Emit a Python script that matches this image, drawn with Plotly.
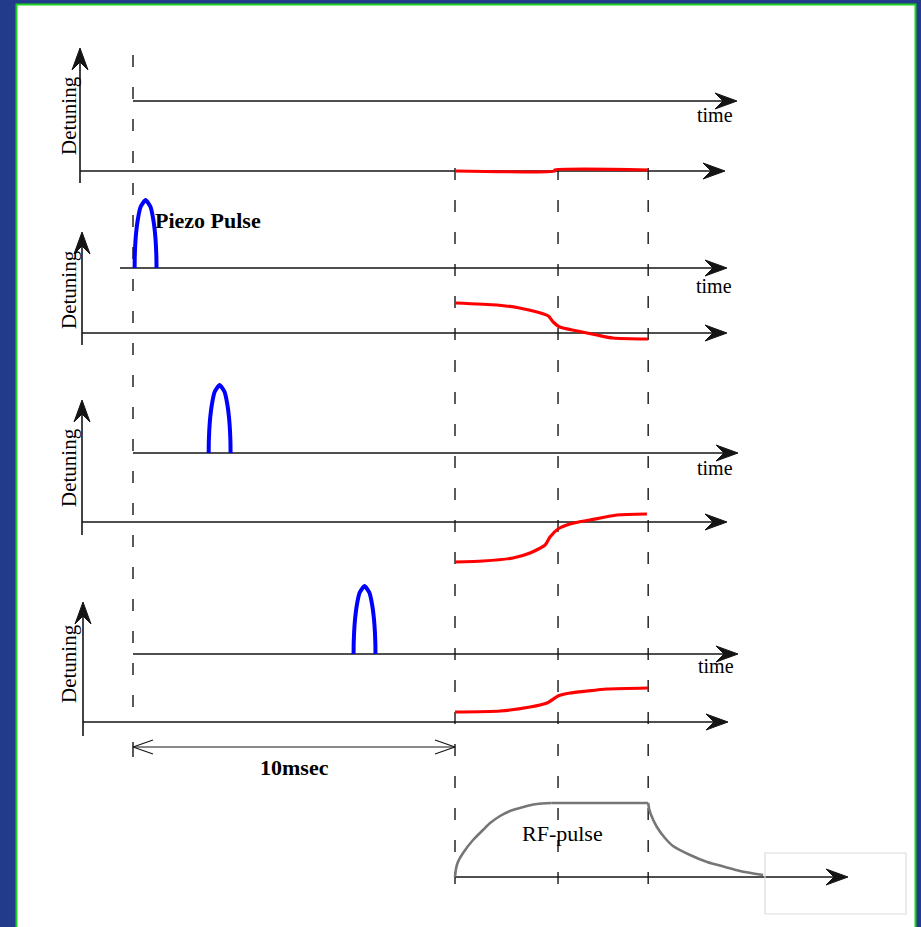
import plotly.graph_objects as go

# ---------------- data ----------------
# Reference instants on the time axis (ms)
trigger_t = 0.0      # piezo trigger in the first case
rf_on_t = 10.0       # RF pulse switched on
rf_mid_t = 13.2      # end of RF filling
rf_off_t = 16.0      # RF pulse switched off

# Piezo pulse centres (ms) for the three delayed cases, full width (ms) and height
piezo_centers = [0.39, 2.69, 7.19]
piezo_width = 0.68
piezo_height = 68

# Normalised outline of one piezo pulse
piezo_shape_x = [-1.0, -0.99, -0.95, -0.86, -0.7, -0.45, 0.0, 0.45, 0.7, 0.86, 0.95, 0.99, 1.0]
piezo_shape_y = [0.0, 0.15, 0.32, 0.52, 0.72, 0.9, 1.0, 0.9, 0.72, 0.52, 0.32, 0.15, 0.0]

# Detuning during the RF pulse, one curve per case (ms, arbitrary units)
det0_t = [10.0, 13.1, 13.1, 16.0]
det0_v = [0, 0, 1, 1]
det1_t = [10.0, 11.3, 12.0, 12.55, 12.9, 13.05, 13.25, 13.8, 14.4, 14.9, 16.0]
det1_v = [30, 28, 25, 21, 17, 11, 6, 2, -2, -5, -6]
det2_t = [10.0, 10.87, 11.8, 12.33, 12.8, 12.95, 13.2, 13.57, 14.19, 15.03, 15.96]
det2_v = [-40, -39, -36, -31, -23, -15, -7, -2, 2, 7, 8]
det3_t = [10.0, 11.4, 12.33, 12.86, 13.2, 13.57, 14.1, 14.72, 16.0]
det3_v = [10, 11, 15, 19, 26, 29, 31, 33, 34]

# RF field envelope (ms, arbitrary units): filling, flat top, decay
rf_fill_t = [10.0, 10.03, 10.09, 10.25, 10.56, 10.87, 11.09, 11.4, 11.71, 12.02, 12.3, 12.55, 13.0]
rf_fill_v = [0, 8, 15, 24, 37, 47, 54, 61, 66, 69, 71.5, 73, 74]
rf_top_t = [13.0, 16.0]
rf_top_v = [74, 74]
rf_decay_t = [16.0, 16.03, 16.09, 16.27, 16.52, 16.77, 17.3, 17.83, 18.39, 18.85, 19.57]
rf_decay_v = [74, 68, 62, 50, 39, 31, 22, 15, 10, 6, 2]

# Texts
axis_title = "Detuning"
time_title = "time"
piezo_title = "Piezo Pulse"
rf_title = "RF-pulse"
span_title = "10msec"

# ---------------- layout helpers ----------------
W, H = 921, 927
PX_PER_MS = 32.2
ORIGIN_PX = 133.0


def px2t(p):
    return (p - ORIGIN_PX) / PX_PER_MS


def t2px(t):
    return ORIGIN_PX + t * PX_PER_MS


INK = "#141414"
SERIF = "Liberation Serif, Times New Roman, serif"

fig = go.Figure()
shapes = []
annotations = []

# window frame
shapes.append(dict(type="rect", xref="paper", yref="paper",
                   x0=16.5 / W, x1=915.5 / W, y0=1 - 940 / H, y1=1 - 4.5 / H,
                   fillcolor="white", line=dict(color="#1fd21f", width=2), layer="below"))


def line(x0p, y0, x1p, y1, color=INK, width=1.6, dash=None):
    shapes.append(dict(type="line", xref="x", yref="y",
                       x0=px2t(x0p), x1=px2t(x1p), y0=y0, y1=y1, layer="below",
                       line=dict(color=color, width=width, dash=dash)))


def head(tx, ty, direction, L=22, Wd=8, N=8):
    # filled barbed arrowhead, tip at (tx, ty) in pixels
    if direction == "right":
        pts = [(tx, ty), (tx - L, ty - Wd), (tx - L + N, ty), (tx - L, ty + Wd), (tx, ty)]
    else:
        pts = [(tx, ty), (tx - Wd, ty + L), (tx, ty + L - N), (tx + Wd, ty + L), (tx, ty)]
    fig.add_trace(go.Scatter(x=[px2t(p[0]) for p in pts], y=[p[1] for p in pts],
                             mode="lines", fill="toself", fillcolor=INK,
                             line=dict(color=INK, width=1), hoverinfo="skip", showlegend=False))


def chevron(tx, ty, direction, L=20, Wd=7):
    s = 1 if direction == "right" else -1
    xs = [tx - s * L, tx, tx - s * L]
    ys = [ty - Wd, ty, ty + Wd]
    fig.add_trace(go.Scatter(x=[px2t(v) for v in xs], y=ys, mode="lines",
                             line=dict(color=INK, width=1.1), hoverinfo="skip", showlegend=False))


def text(xp, y, s, size=20, bold=False, angle=0, xanchor="center"):
    annotations.append(dict(x=px2t(xp), y=y, xref="x", yref="y", text=f"<b>{s}</b>" if bold else s,
                            showarrow=False, textangle=angle, xanchor=xanchor, yanchor="middle",
                            font=dict(family=SERIF, size=size, color="#000")))


# dashed timing markers
DASH = "12px,20px"
line(t2px(trigger_t), 55, t2px(trigger_t), 723, color="#333", width=1.6, dash=DASH)
for tm in (rf_on_t, rf_mid_t, rf_off_t):
    line(t2px(tm), 168, t2px(tm), 897, color="#333", width=1.6, dash=DASH)

# panels: upper time axis, lower detuning baseline, vertical detuning axis
panels = [
    dict(top_y=101, top_x0=133, top_tip=737, base_y=171, base_tip=725,
         vx=80, v_top=48, v_bot=183, time_xy=(715, 115), det_y=116),
    dict(top_y=268, top_x0=120, top_tip=727, base_y=333, base_tip=727,
         vx=82, v_top=232, v_bot=345, time_xy=(714, 286), det_y=290),
    dict(top_y=453, top_x0=133, top_tip=738, base_y=522, base_tip=727,
         vx=82, v_top=400, v_bot=535, time_xy=(715, 468), det_y=468),
    dict(top_y=654, top_x0=133, top_tip=738, base_y=722, base_tip=728,
         vx=83, v_top=602, v_bot=736, time_xy=(716, 666), det_y=664),
]

for p in panels:
    line(p["top_x0"], p["top_y"], p["top_tip"] - 6, p["top_y"])
    head(p["top_tip"], p["top_y"], "right")
    line(p["vx"], p["base_y"], p["base_tip"] - 6, p["base_y"])
    head(p["base_tip"], p["base_y"], "right")
    line(p["vx"], p["v_bot"], p["vx"], p["v_top"] + 6)
    head(p["vx"], p["v_top"], "up")
    text(p["time_xy"][0], p["time_xy"][1], time_title, size=20)
    text(69, p["det_y"], axis_title, size=21, angle=-90)

# detuning curves
det_curves = [(det0_t, det0_v), (det1_t, det1_v), (det2_t, det2_v), (det3_t, det3_v)]
for p, (ts, vs) in zip(panels, det_curves):
    fig.add_trace(go.Scatter(x=ts, y=[p["base_y"] - v for v in vs], mode="lines",
                             line=dict(color="#ff0000", width=3.2, shape="spline", smoothing=0.6),
                             hoverinfo="skip", showlegend=False))

# piezo pulses
for p, c in zip(panels[1:], piezo_centers):
    fig.add_trace(go.Scatter(x=[c + sx * piezo_width / 2 for sx in piezo_shape_x],
                             y=[p["top_y"] - sy * piezo_height for sy in piezo_shape_y],
                             mode="lines", line=dict(color="#0000ff", width=4, shape="spline", smoothing=0.5),
                             hoverinfo="skip", showlegend=False))
text(153, 220, piezo_title, size=22, bold=True, xanchor="left")

# 10 ms span
SPAN_Y = 747
line(t2px(trigger_t), SPAN_Y - 5, t2px(trigger_t), SPAN_Y + 10, width=1.4)
line(t2px(trigger_t), SPAN_Y, t2px(rf_on_t), SPAN_Y, width=1.2)
chevron(t2px(trigger_t), SPAN_Y, "left")
chevron(t2px(rf_on_t), SPAN_Y, "right")
text((t2px(trigger_t) + t2px(rf_on_t)) / 2, 767, span_title, size=22, bold=True)

# RF pulse
RF_BASE = 877
line(t2px(rf_on_t), RF_BASE, 842, RF_BASE)
head(848, RF_BASE, "right")
for ts, vs in ((rf_fill_t, rf_fill_v), (rf_top_t, rf_top_v), (rf_decay_t, rf_decay_v)):
    fig.add_trace(go.Scatter(x=ts, y=[RF_BASE - v for v in vs], mode="lines",
                             line=dict(color="#767676", width=2.6, shape="spline", smoothing=0.7),
                             hoverinfo="skip", showlegend=False))
text(562, 833, rf_title, size=22)
shapes.append(dict(type="rect", xref="x", yref="y", x0=px2t(765), x1=px2t(906), y0=853, y1=914,
                   line=dict(color="#dcdcdc", width=1.2), fillcolor="rgba(0,0,0,0)"))

fig.update_layout(
    width=W, height=H, autosize=False,
    margin=dict(l=0, r=0, t=0, b=0),
    paper_bgcolor="#233b8b", plot_bgcolor="rgba(0,0,0,0)",
    xaxis=dict(range=[px2t(0), px2t(W)], visible=False, fixedrange=True),
    yaxis=dict(range=[H, 0], visible=False, fixedrange=True),
    shapes=shapes, annotations=annotations, showlegend=False,
)

fig.write_html("out.html")
